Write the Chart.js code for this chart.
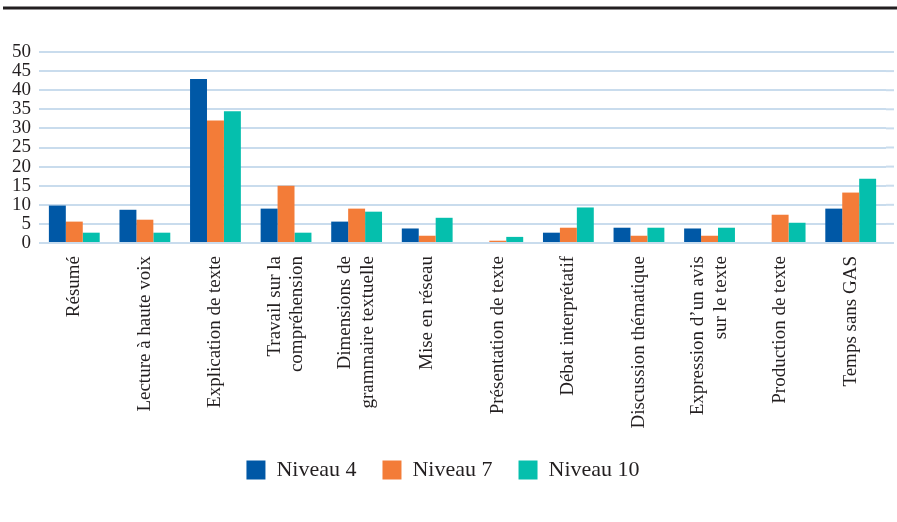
<!DOCTYPE html>
<html>
<head>
<meta charset="utf-8">
<script src="https://cdn.jsdelivr.net/npm/chart.js@4"></script>
<style>
  html, body { margin: 0; padding: 0; background: #fff; }
  #wrap { width: 897px; height: 522px; position: relative; }
</style>
</head>
<body>
<div id="wrap"><canvas id="chart" width="897" height="522"></canvas></div>
<script>
// categories (multi-line labels as arrays)
const categories = [
  "Résumé",
  "Lecture à haute voix",
  "Explication de texte",
  ["Travail sur la", "compréhension"],
  ["Dimensions de", "grammaire textuelle"],
  "Mise en réseau",
  "Présentation de texte",
  "Débat interprétatif",
  "Discussion thématique",
  ["Expression d’un avis", "sur le texte"],
  "Production de texte",
  "Temps sans GAS"
];

const niveau4  = [9.8, 8.7, 42.9, 9.0, 5.6, 3.8, 0,   2.7, 4.0, 3.8, 0,   9.0];
const niveau7  = [5.6, 6.1, 32.1, 15.0, 9.0, 1.9, 0.6, 4.0, 1.9, 1.9, 7.4, 13.2];
const niveau10 = [2.7, 2.7, 34.5, 2.7, 8.2, 6.6, 1.6, 9.3, 4.0, 4.0, 5.3, 16.8];

const yTicks = [0, 5, 10, 15, 20, 25, 30, 35, 40, 45, 50];

const serif = "'Liberation Serif', 'DejaVu Serif', serif";
const gridColor = '#c9dced';

// dark rule across the top, and grid lines running on past the last bar
const decor = {
  id: 'decor',
  beforeDraw(chart) {
    const ctx = chart.ctx;
    ctx.save();
    ctx.strokeStyle = '#231f20';
    ctx.lineWidth = 3;
    ctx.beginPath();
    ctx.moveTo(3, 8);
    ctx.lineTo(897, 8);
    ctx.stroke();

    const y = chart.scales.y;
    ctx.strokeStyle = gridColor;
    ctx.lineWidth = 2;
    yTicks.forEach(v => {
      const py = y.getPixelForValue(v);
      ctx.beginPath();
      ctx.moveTo(chart.chartArea.right, py);
      ctx.lineTo(894, py);
      ctx.stroke();
    });
    ctx.restore();

    // centre the multi-line rotated labels on their category
    const x = chart.scales.x;
    const items = x.getLabelItems();
    if (!items._centred) {
      items.forEach(it => {
        if (Array.isArray(it.label) && it.label.length > 1) {
          it.textOffset -= (it.label.length - 1) * it.font.lineHeight / 2;
        }
      });
      items._centred = true;
    }
  }
};

new Chart(document.getElementById('chart'), {
  type: 'bar',
  data: {
    labels: categories,
    datasets: [
      { label: 'Niveau 4', data: niveau4, backgroundColor: '#0058a6' },
      { label: 'Niveau 7', data: niveau7, backgroundColor: '#f37c38' },
      { label: 'Niveau 10', data: niveau10, backgroundColor: '#05bfad' }
    ]
  },
  options: {
    responsive: false,
    animation: false,
    layout: { padding: { top: 52, right: 11, bottom: 31, left: 0 } },
    datasets: { bar: { categoryPercentage: 0.72, barPercentage: 1.0 } },
    plugins: {
      tooltip: { enabled: false },
      legend: {
        position: 'bottom',
        labels: {
          font: { family: serif, size: 22 },
          color: '#231f20',
          boxWidth: 19,
          boxHeight: 19,
          padding: 26
        }
      }
    },
    scales: {
      x: {
        grid: { display: false },
        border: { display: false },
        ticks: {
          autoSkip: false,
          maxRotation: 90,
          minRotation: 90,
          padding: 5,
          color: '#231f20',
          font: { family: serif, size: 19 }
        },
        afterFit(scale) { scale.height = 190; }
      },
      y: {
        min: 0,
        max: 50,
        afterBuildTicks(scale) { scale.ticks = yTicks.map(v => ({ value: v })); },
        grid: { color: gridColor, lineWidth: 2, drawTicks: false },
        border: { display: false },
        ticks: {
          autoSkip: false,
          padding: 8,
          color: '#231f20',
          font: { family: serif, size: 19 }
        },
        afterFit(scale) { scale.width = 39; }
      }
    }
  },
  plugins: [decor]
});
</script>
</body>
</html>
